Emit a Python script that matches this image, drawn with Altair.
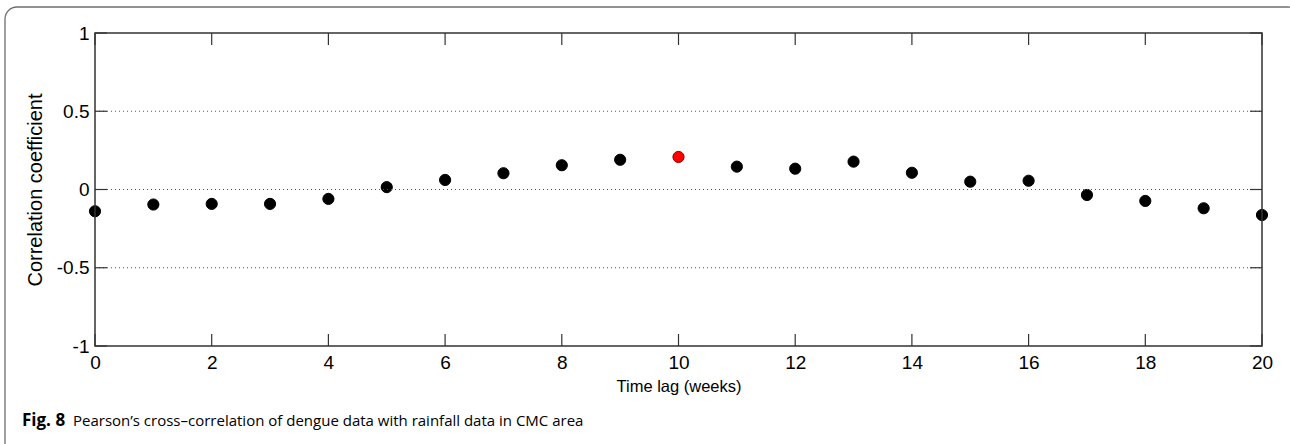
import altair as alt
import pandas as pd

# ---- data ----
lags = list(range(21))
corr = [-0.139, -0.096, -0.092, -0.092, -0.060, 0.015, 0.061, 0.104, 0.155, 0.190,
        0.208, 0.146, 0.133, 0.178, 0.107, 0.050, 0.056, -0.035, -0.073, -0.120, -0.163]
peak_lag = 10
x_ticks = [0, 2, 4, 6, 8, 10, 12, 14, 16, 18, 20]
y_ticks = [-1, -0.5, 0, 0.5, 1]
grid_y = [-0.5, 0, 0.5]
x_title = "Time lag (weeks)"
y_title = "Correlation coefficient"
caption_bold = "Fig. 8"
caption_text = "Pearson\u2019s cross\u2013correlation of dengue data with rainfall data in CMC area"

W, H = 1167, 313
LEFT, TOP = 95, 33
AXIS_COLOR = "#333333"
TICK_LEN = 12

df = pd.DataFrame({"lag": lags, "r": corr,
                   "peak": ["yes" if l == peak_lag else "no" for l in lags]})
xt = pd.DataFrame({"lag": x_ticks})
yt = pd.DataFrame({"r": y_ticks})
gy = pd.DataFrame({"r": grid_y})
one = pd.DataFrame({"k": [0]})

xs = alt.Scale(domain=[0, 20], nice=False, zero=False)
ys = alt.Scale(domain=[-1, 1], nice=False, zero=False)

FONT = "Liberation Sans"
HYPHEN = "replace(datum.label, '\u2212', '-')"

x_axis = alt.Axis(values=x_ticks, ticks=False, domain=False, grid=False,
                  labelFont=FONT, labelFontSize=19, labelColor="#000",
                  labelPadding=7, labelFlush=False, title=x_title, titleFont=FONT,
                  titleFontSize=16.5, titleFontWeight="normal", titleColor="#000",
                  titlePadding=6)
y_axis = alt.Axis(values=y_ticks, ticks=False, domain=False, grid=False,
                  labelFont=FONT, labelFontSize=19, labelColor="#000",
                  labelPadding=6, labelFlush=False, format="~g", labelExpr=HYPHEN,
                  title=y_title, titleFont=FONT, titleFontSize=20,
                  titleFontWeight="normal", titleColor="#000", titlePadding=11)

X = alt.X("lag:Q", scale=xs, axis=x_axis)
Y = alt.Y("r:Q", scale=ys, axis=y_axis)

points = alt.Chart(df).mark_point(filled=True, opacity=1, size=125, strokeWidth=1).encode(
    x=X, y=Y,
    fill=alt.Fill("peak:N", scale=alt.Scale(domain=["no", "yes"], range=["#000000", "#ff0000"]),
                  legend=None),
    stroke=alt.Stroke("peak:N", scale=alt.Scale(domain=["no", "yes"], range=["#000000", "#8a0000"]),
                      legend=None),
)

grid = alt.Chart(gy).mark_rule(color="#555555", strokeDash=[1, 3], strokeWidth=1).encode(
    y=Y, x=alt.value(0), x2=alt.value(W))

frame = alt.Chart(one).mark_rect(filled=False, stroke=AXIS_COLOR, strokeWidth=1.5).encode(
    x=alt.value(0), x2=alt.value(W), y=alt.value(0), y2=alt.value(H))

xt_bottom = alt.Chart(xt).mark_rule(color=AXIS_COLOR, strokeWidth=1.2).encode(
    x=X, y=alt.value(H), y2=alt.value(H - TICK_LEN))
xt_top = alt.Chart(xt).mark_rule(color=AXIS_COLOR, strokeWidth=1.2).encode(
    x=X, y=alt.value(0), y2=alt.value(TICK_LEN))
yt_left = alt.Chart(yt).mark_rule(color=AXIS_COLOR, strokeWidth=1.2).encode(
    y=Y, x=alt.value(0), x2=alt.value(TICK_LEN))
yt_right = alt.Chart(yt).mark_rule(color=AXIS_COLOR, strokeWidth=1.2).encode(
    y=Y, x=alt.value(W), x2=alt.value(W - TICK_LEN))

outer = alt.Chart(one).mark_rect(filled=False, stroke="#6e6e6e", strokeWidth=1.3,
                                 cornerRadius=12).encode(
    x=alt.value(5 - LEFT), x2=alt.value(1300 - LEFT),
    y=alt.value(7 - TOP), y2=alt.value(480 - TOP))

cap1 = alt.Chart(one).mark_text(text=caption_bold, font="Open Sans", fontSize=17,
                                fontWeight="bold", align="left", baseline="alphabetic",
                                color="#000").encode(
    x=alt.value(22 - LEFT), y=alt.value(426 - TOP))
cap2 = alt.Chart(one).mark_text(text=caption_text, font="Open Sans", fontSize=15,
                                align="left", baseline="alphabetic", color="#000").encode(
    x=alt.value(73 - LEFT), y=alt.value(426 - TOP))

chart = alt.layer(points, outer, grid, frame, xt_bottom, xt_top, yt_left, yt_right,
                  cap1, cap2).properties(
    width=W, height=H,
    autosize=alt.AutoSizeParams(type="none"),
    padding={"left": LEFT, "top": TOP, "right": 1290 - LEFT - W, "bottom": 444 - TOP - H},
    background="white",
).configure_view(stroke=None)

chart.save("out.html", embed_options={"renderer": "svg", "actions": False})
